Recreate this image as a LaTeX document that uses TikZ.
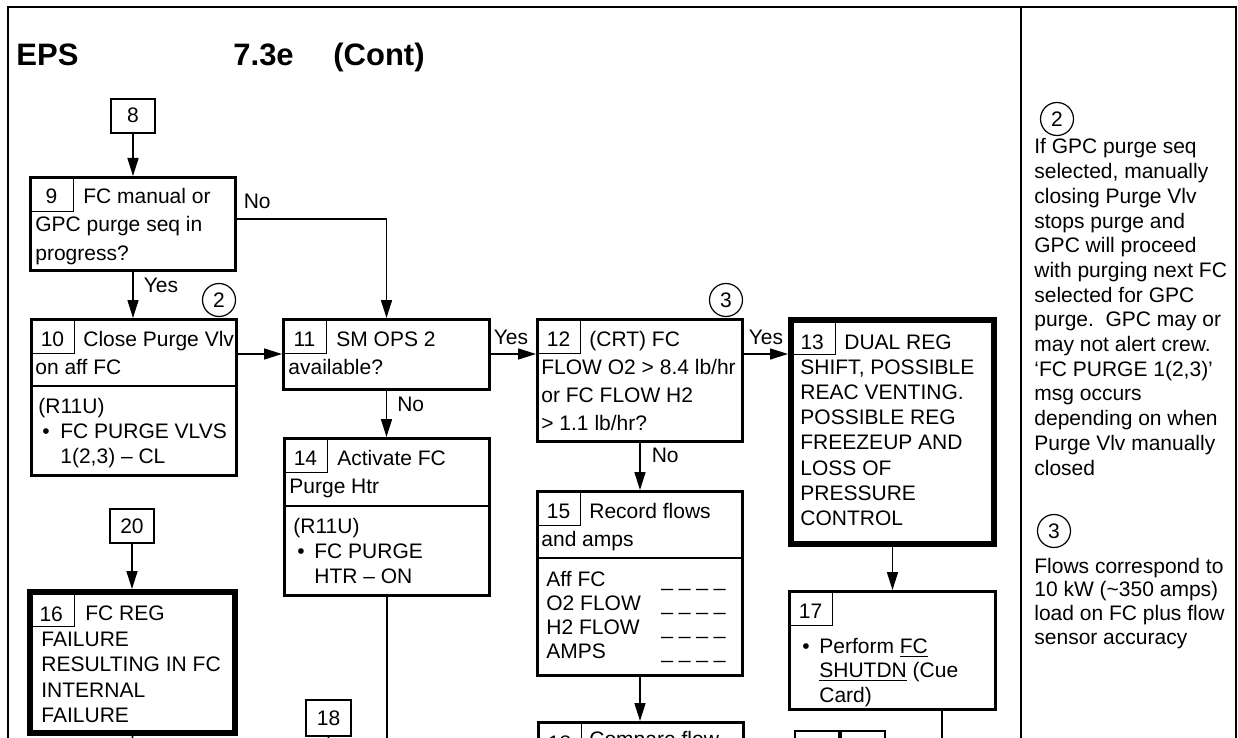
\documentclass[tikz,border=0pt]{standalone}
\usepackage{fontspec}
\setmainfont{Liberation Sans}
\usetikzlibrary{arrows.meta,positioning}
\newcommand{\boxlines}[1]{\begin{tabular}[t]{@{}l@{}}#1\end{tabular}}

\begin{document}
\begin{tikzpicture}[
    x=0.5pt,y=-0.5pt,
    font=\fontsize{10.5}{14}\selectfont,
    stepbox/.style={draw,line width=1.4pt,anchor=north west,inner sep=0pt},
    heavybox/.style={draw,line width=3pt,anchor=north west,inner sep=0pt},
    tagbox/.style={draw,line width=0.8pt,anchor=north west,inner sep=0pt,
      minimum width=22.2pt,minimum height=17.2pt,text height=7pt,text depth=0pt},
    numcell/.style={draw,line width=0.7pt,anchor=north west,inner sep=0pt,
      minimum width=21.8pt,minimum height=17.3pt,text height=10pt,text depth=0pt},
    heavycell/.style={numcell,minimum width=23.5pt,minimum height=18.5pt,text height=13pt},
    txt/.style={anchor=base west,inner sep=0pt,align=left},
    tight/.style={txt,font=\fontsize{10.5}{12.5}\selectfont},
    lbl/.style={inner sep=0pt,anchor=base west},
    note/.style={circle,draw,line width=0.6pt,minimum size=16.5pt,inner sep=0pt},
    arr/.style={-{Triangle[length=9pt,width=5.5pt]},line width=0.8pt},
    flow/.style={line width=0.8pt}
  ]
  \useasboundingbox (0,0) rectangle (1238,738);
  \clip (0,0) rectangle (1238,738);

  \draw[line width=1pt] (8,760) -- (8,7) -- (1236,7) -- (1236,760);
  \draw[line width=1pt] (1021,7) -- (1021,760);

  \node[lbl,font=\fontsize{15.5}{18}\selectfont\bfseries] (ttl) at (16,66) {EPS};
  \node[lbl,font=\fontsize{15.5}{18}\selectfont\bfseries] (ttlnum) at (233,66) {7.3e};
  \node[lbl,font=\fontsize{15.5}{18}\selectfont\bfseries] (ttlcont) at (333,66) {(Cont)};

  \node[tagbox] (s8) at (110,98) {8};

  \node[stepbox,minimum width=102.6pt,minimum height=46.6pt] (s9) at (29,176) {};
  \node[numcell] (s9n) at (s9.north west) {9};
  \node[txt] (s9h) at (83,204) {FC manual or};
  \node[txt] (s9t) at (35,232) {\boxlines{GPC purge seq in\\progress?}};

  \node[stepbox,minimum width=102.6pt,minimum height=78.1pt] (s10) at (30,318) {};
  \node[numcell] (s10n) at (s10.north west) {10};
  \node[txt] (s10h) at (83,346) {Close Purge Vlv};
  \node[txt] (s10t) at (35,374) {on aff FC};
  \draw[line width=1.4pt] ([yshift=-34pt]s10.north west) -- ([yshift=-34pt]s10.north east);
  \node[tight] (s10r) at (38,413) {(R11U)};
  \node[txt] (s10b) at (42,438) {\textbullet};
  \node[tight] (s10a) at (60,438) {\boxlines{FC PURGE VLVS\\1(2,3) – CL}};

  \node[stepbox,minimum width=103.1pt,minimum height=35.1pt] (s11) at (282,318) {};
  \node[numcell] (s11n) at (s11.north west) {11};
  \node[txt] (s11h) at (336,346) {SM OPS 2};
  \node[txt] (s11t) at (288,374) {available?};

  \node[stepbox,minimum width=102.6pt,minimum height=61.1pt] (s12) at (536,318) {};
  \node[numcell] (s12n) at (s12.north west) {12};
  \node[txt] (s12h) at (589,346) {(CRT) FC};
  \node[txt] (s12t) at (541,374) {\boxlines{FLOW O2 > 8.4 lb/hr\\or FC FLOW H2\\> 1.1 lb/hr?}};

  \node[heavybox,minimum width=101.5pt,minimum height=112pt] (s13) at (788,317) {};
  \node[heavycell] (s13n) at (s13.north west) {13};
  \node[txt] (s13h) at (844,349) {DUAL REG};
  \node[txt,font=\fontsize{10.5}{12.65}\selectfont] (s13t) at (800,374)
    {\boxlines{SHIFT, POSSIBLE\\REAC VENTING.\\POSSIBLE REG\\FREEZEUP AND\\LOSS OF\\PRESSURE\\CONTROL}};

  \node[stepbox,minimum width=102.6pt,minimum height=78.6pt] (s14) at (283,437) {};
  \node[numcell] (s14n) at (s14.north west) {14};
  \node[txt] (s14h) at (337,465) {Activate FC};
  \node[txt] (s14t) at (289,493) {Purge Htr};
  \draw[line width=1.4pt] ([yshift=-34.5pt]s14.north west) -- ([yshift=-34.5pt]s14.north east);
  \node[tight] (s14r) at (293,533) {(R11U)};
  \node[txt] (s14b) at (297,558) {\textbullet};
  \node[tight] (s14a) at (314,558) {\boxlines{FC PURGE\\HTR – ON}};

  \node[stepbox,minimum width=102.6pt,minimum height=92.1pt] (s15) at (536,490) {};
  \node[numcell] (s15n) at (s15.north west) {15};
  \node[txt] (s15h) at (589,518) {Record flows};
  \node[txt] (s15t) at (541,546) {and amps};
  \draw[line width=1.4pt] ([yshift=-34pt]s15.north west) -- ([yshift=-34pt]s15.north east);
  \node[txt,font=\fontsize{10.5}{12}\selectfont] (s15l) at (546,586)
    {\boxlines{Aff FC\\O2 FLOW\\H2 FLOW\\AMPS}};
  \node[txt,font=\fontsize{10.5}{12}\selectfont] (s15d) at (661,586)
    {\boxlines{\_ \_ \_ \_\\\_ \_ \_ \_\\\_ \_ \_ \_\\\_ \_ \_ \_}};

  \node[tagbox] (s20) at (109,508) {20};

  \node[heavybox,minimum width=102.5pt,minimum height=70.5pt] (s16) at (27,589) {};
  \node[heavycell] (s16n) at (s16.north west) {16};
  \node[txt] (s16h) at (85,620) {FC REG};
  \node[txt,font=\fontsize{10.5}{12.75}\selectfont] (s16t) at (41,646)
    {\boxlines{FAILURE\\RESULTING IN FC\\INTERNAL\\FAILURE}};

  \node[stepbox,minimum width=103.1pt,minimum height=59.1pt] (s17) at (788,590) {};
  \node[numcell] (s17n) at (s17.north west) {17};
  \node[txt] (s17b) at (802,653) {\textbullet};
  \node[txt,font=\fontsize{10.5}{12.25}\selectfont] (s17a) at (819,653)
    {\boxlines{Perform \underline{FC}\\\underline{SHUTDN} (Cue\\Card)}};

  \node[tagbox,minimum width=22.7pt,minimum height=18.2pt] (s18a) at (305,699) {18};

  \node[stepbox,minimum width=102.6pt,minimum height=48.6pt] (s18) at (537,721) {};
  \node[numcell,text height=11.5pt] (s18n) at (s18.north west) {18};
  \node[txt] (s18h) at (589,746) {Compare flow};

  \node[tagbox] (s19n) at (794,730) {};
  \node[tagbox] (s19) at (s19n.north east) {};

  \node[note] (c2) at (219,300) {2};
  \node[note] (c3) at (726,300) {3};

  \coordinate (e14) at (387,760);
  \coordinate (e16) at (133,760);
  \coordinate (e17) at (942,760);
  \coordinate (e18) at (328,760);

  \draw[arr] (s8.south) -- (s8.south |- s9.north);
  \draw[arr] (s9.south) -- node[lbl,pos=0.3,anchor=west,xshift=5pt] {Yes} (s9.south |- s10.north);
  \draw[arr] ([yshift=2.5pt]s9.east) node[lbl,xshift=3pt,yshift=5pt] {No} -| (s11.north);
  \draw[arr] ([yshift=-18pt]s10.north east) -- ([yshift=-18pt]s11.north west);
  \draw[arr] ([yshift=-18pt]s11.north east) node[lbl,xshift=1pt,yshift=5pt] {Yes} -- ([yshift=-18pt]s12.north west);
  \draw[arr] ([yshift=-18pt]s12.north east) node[lbl,xshift=2pt,yshift=5pt] {Yes} -- ([yshift=-18.5pt]s13.north west);
  \draw[arr] (s11.south) -- node[lbl,pos=0.28,anchor=west,xshift=5pt] {No} (s11.south |- s14.north);
  \draw[arr] (s12.south) -- node[lbl,pos=0.26,anchor=west,xshift=5.5pt] {No} (s12.south |- s15.north);
  \draw[arr] (s15.south) -- (s15.south |- s18.north);
  \draw[arr] (s13.south) -- (s13.south |- s17.north);
  \draw[arr] (s20.south) -- (s20.south |- s16.north);
  \draw[flow] (s14.south) -- (e14);
  \draw[flow] (s16.south) -- (e16);
  \draw[flow] ([xshift=24.75pt]s17.south) -- (e17);
  \draw[flow] (s18a.south) -- (e18);

  \node[note] (p2) at (1057,119) {2};
  \node[txt,font=\fontsize{10.5}{12.35}\selectfont] (p2t) at (1034,154)
    {\boxlines{If GPC purge seq\\selected, manually\\closing Purge Vlv\\stops purge and\\GPC will proceed\\with purging next FC\\selected for GPC\\purge.\ \ GPC may or\\may not alert crew.\\‘FC PURGE 1(2,3)’\\msg occurs\\depending on when\\Purge Vlv manually\\closed}};
  \node[note] (p3) at (1054,531) {3};
  \node[txt,font=\fontsize{10.5}{11.85}\selectfont] (p3t) at (1034,573)
    {\boxlines{Flows correspond to\\10 kW (\textasciitilde350 amps)\\load on FC plus flow\\sensor accuracy}};
\end{tikzpicture}
\end{document}
